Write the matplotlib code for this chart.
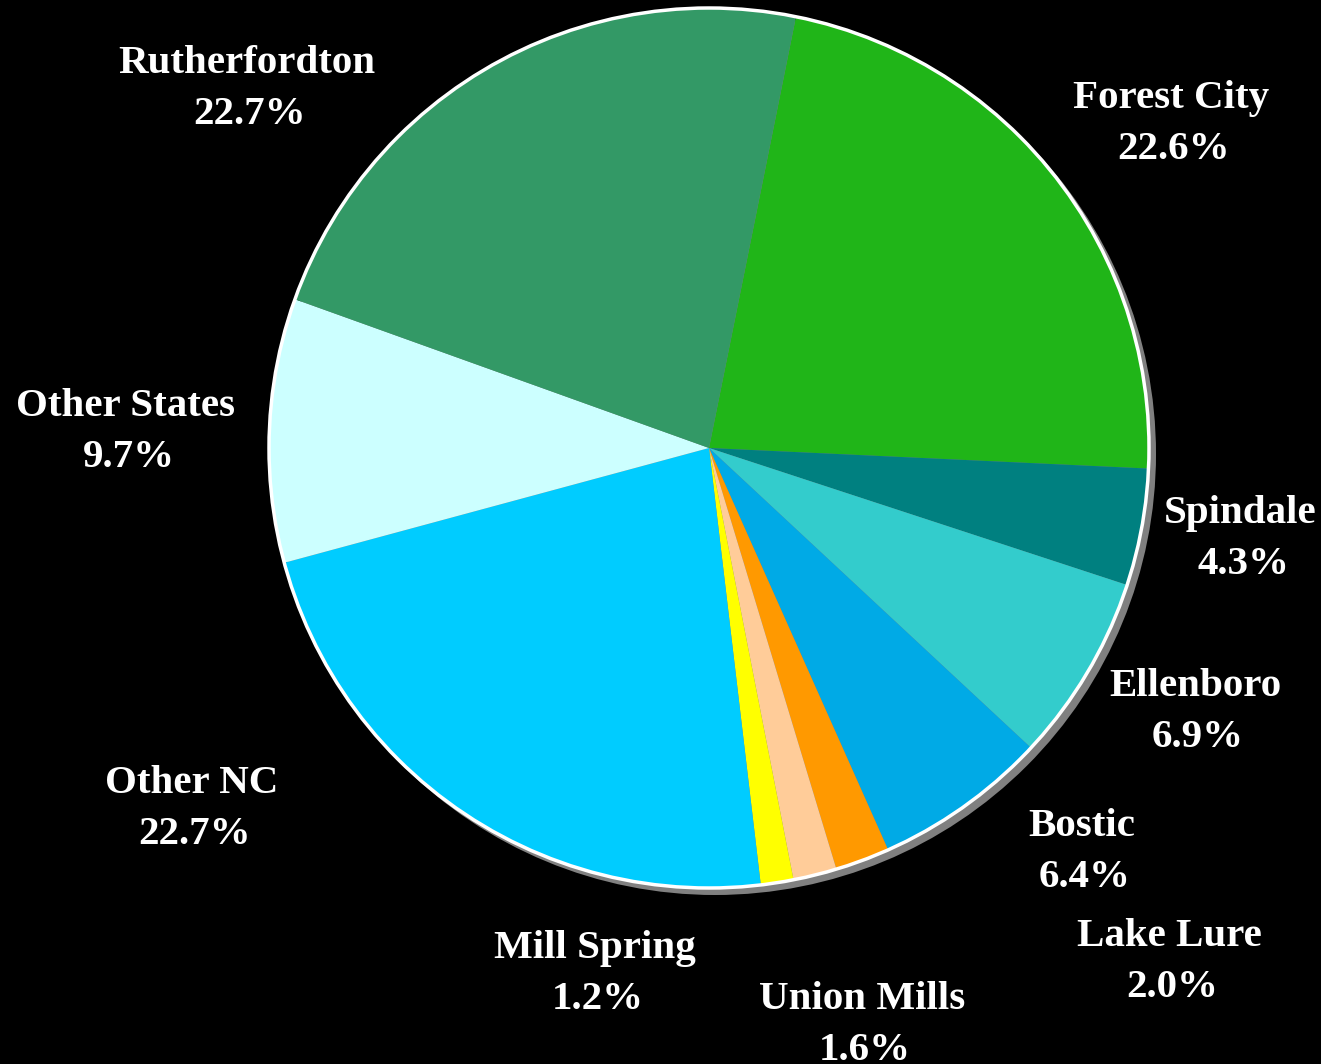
import matplotlib.pyplot as plt
from matplotlib.patches import Circle

# Share of residents by place
places = ['Forest City', 'Spindale', 'Ellenboro', 'Bostic', 'Lake Lure',
          'Union Mills', 'Mill Spring', 'Other NC', 'Other States', 'Rutherfordton']
shares = [22.6, 4.3, 6.9, 6.4, 2.0, 1.6, 1.2, 22.7, 9.7, 22.7]
colors = ['#20b518', '#008080', '#33cccc', '#00aae6', '#ff9900',
          '#ffcc99', '#ffff00', '#00ccff', '#ccffff', '#339966']

# label anchors (x centre, baseline of the name line) in pixel units
label_pos = [(1171, 108), (1240, 523), (1195, 696), (1082, 836), (1169, 946),
             (862, 1009), (595, 958), (192, 793), (126, 416), (247, 73)]

W, H = 1321, 1064
fig = plt.figure(figsize=(W / 100, H / 100), dpi=100, facecolor='black')
ax = fig.add_axes([0, 0, 1, 1])
ax.set_facecolor('black')

cx, cy, r = 709, H - 448, 440

# drop shadow behind the pie
ax.add_patch(Circle((cx + 6, cy - 6), r + 1, facecolor='#808080', edgecolor='none', zorder=1))

ax.pie(shares, colors=colors, startangle=78.6, counterclock=False,
       center=(cx, cy), radius=r, frame=True,
       wedgeprops=dict(linewidth=0, zorder=2))
ax.set_xlim(0, W)
ax.set_ylim(0, H)
ax.set_aspect('equal')
ax.axis('off')

# white rim
ax.add_patch(Circle((cx, cy), r, facecolor='none', edgecolor='white', linewidth=2.5, zorder=3))

font = dict(family=['Liberation Serif', 'DejaVu Serif'], weight='bold', size=29.5, color='white')
for name, val, (x, y) in zip(places, shares, label_pos):
    ax.text(x, H - y, name, ha='center', va='baseline', **font)
    ax.text(x + 3, H - y - 51, f'{val:.1f}%', ha='center', va='baseline', **font)

fig.savefig('out.png', dpi=100, facecolor='black')
